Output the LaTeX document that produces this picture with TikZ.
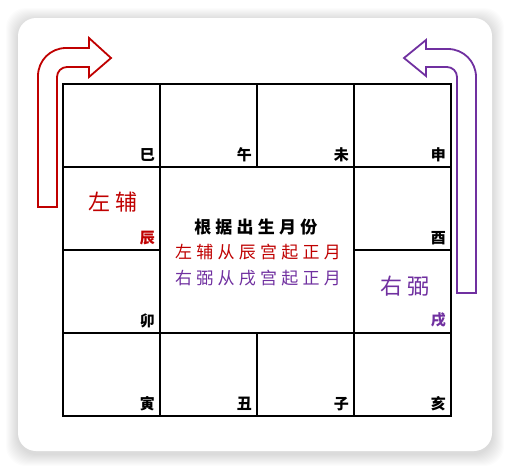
\documentclass[tikz,border=0pt]{standalone}
\usepackage{fontspec}
\newfontfamily\cjk{Noto Sans CJK SC}
\newfontfamily\cjkwide[LetterSpace=25]{Noto Sans CJK SC}
\usetikzlibrary{positioning}
\definecolor{fured}{HTML}{C00000}
\definecolor{bipurple}{HTML}{7030A0}

\begin{document}
\begin{tikzpicture}[
        x=1pt, y=-1pt,
        cell/.style = {draw, line width=2pt, minimum width=97pt, minimum height=83pt, inner sep=0pt, outer sep=0pt},
        branch/.style = {font=\cjk\bfseries\fontsize{15}{15}\selectfont, inner sep=0pt, anchor=south east},
        star/.style = {font=\cjkwide\fontsize{22}{22}\selectfont, inner sep=0pt},
        bent/.style = {line width=1.8pt, fill=white, line join=miter}
        ]

        \useasboundingbox (0,0) rectangle (510,469);

        % Karte mit Schatten
        \foreach \i in {1,...,12}
            \fill[black, opacity=0.012, rounded corners=20pt] (18-\i,20-\i) rectangle (492+\i,454+\i);
        \fill[white, rounded corners=18pt] (18,18) rectangle (492,451);

        % Pfeile
        \draw[bent, draw=fured] (38,207) -- (38,76) .. controls (38,60.5) and (50.5,48) .. (66,48)
            -- (89,48) -- (89,38) -- (111,58) -- (89,77) -- (89,67) -- (67,67)
            .. controls (61.5,67) and (57,71.5) .. (57,77) -- (57,207) -- cycle;
        \draw[bent, draw=bipurple] (476,293) -- (476,77) .. controls (476,61.5) and (463.5,49) .. (448,49)
            -- (426,49) -- (426,40) -- (404,58) -- (426,76) -- (426,67) -- (447,67)
            .. controls (452.5,67) and (457,71.5) .. (457,77) -- (457,293) -- cycle;

        % Felder
        \node[cell] (si) at (111.5,125.5) {};
        \node[cell, right=0pt of si] (wu) {};
        \node[cell, right=0pt of wu] (wei) {};
        \node[cell, right=0pt of wei] (shen) {};
        \node[cell, below=0pt of shen] (you) {};
        \node[cell, below=0pt of you] (xu) {};
        \node[cell, below=0pt of xu] (hai) {};
        \node[cell, left=0pt of hai] (zi) {};
        \node[cell, left=0pt of zi] (chou) {};
        \node[cell, left=0pt of chou] (yin) {};
        \node[cell, above=0pt of yin] (mao) {};
        \node[cell, above=0pt of mao] (chen) {};
        \node[cell, minimum width=194pt, minimum height=166pt, below right=0pt of si] (mid) {};

        % Zweige
        \node[branch] (lsi) at ([xshift=-5pt,yshift=5pt]si.south east) {巳};
        \node[branch] (lwu) at ([xshift=-5pt,yshift=5pt]wu.south east) {午};
        \node[branch] (lwei) at ([xshift=-5pt,yshift=5pt]wei.south east) {未};
        \node[branch] (lshen) at ([xshift=-5pt,yshift=5pt]shen.south east) {申};
        \node[branch] (lyou) at ([xshift=-5pt,yshift=5pt]you.south east) {酉};
        \node[branch, bipurple] (lxu) at ([xshift=-5pt,yshift=5pt]xu.south east) {戌};
        \node[branch] (lhai) at ([xshift=-5pt,yshift=5pt]hai.south east) {亥};
        \node[branch] (lzi) at ([xshift=-5pt,yshift=5pt]zi.south east) {子};
        \node[branch] (lchou) at ([xshift=-5pt,yshift=5pt]chou.south east) {丑};
        \node[branch] (lyin) at ([xshift=-5pt,yshift=5pt]yin.south east) {寅};
        \node[branch] (lmao) at ([xshift=-5pt,yshift=5pt]mao.south east) {卯};
        \node[branch, fured] (lchen) at ([xshift=-5pt,yshift=5pt]chen.south east) {辰};

        % Sterne
        \node[star, fured] (zuofu) at (113,202) {左辅};
        \node[star, bipurple] (youbi) at (405,286) {右弼};

        % Regel
        \node[font=\cjkwide\fontsize{17}{25.5}\selectfont, align=center, inner sep=0pt] (rule) at ([xshift=1pt,yshift=-2.5pt]mid.center)
            {\textbf{根据出生月份}\\\textcolor{fured}{左辅从辰宫起正月}\\\textcolor{bipurple}{右弼从戌宫起正月}};

\end{tikzpicture}
\end{document}
